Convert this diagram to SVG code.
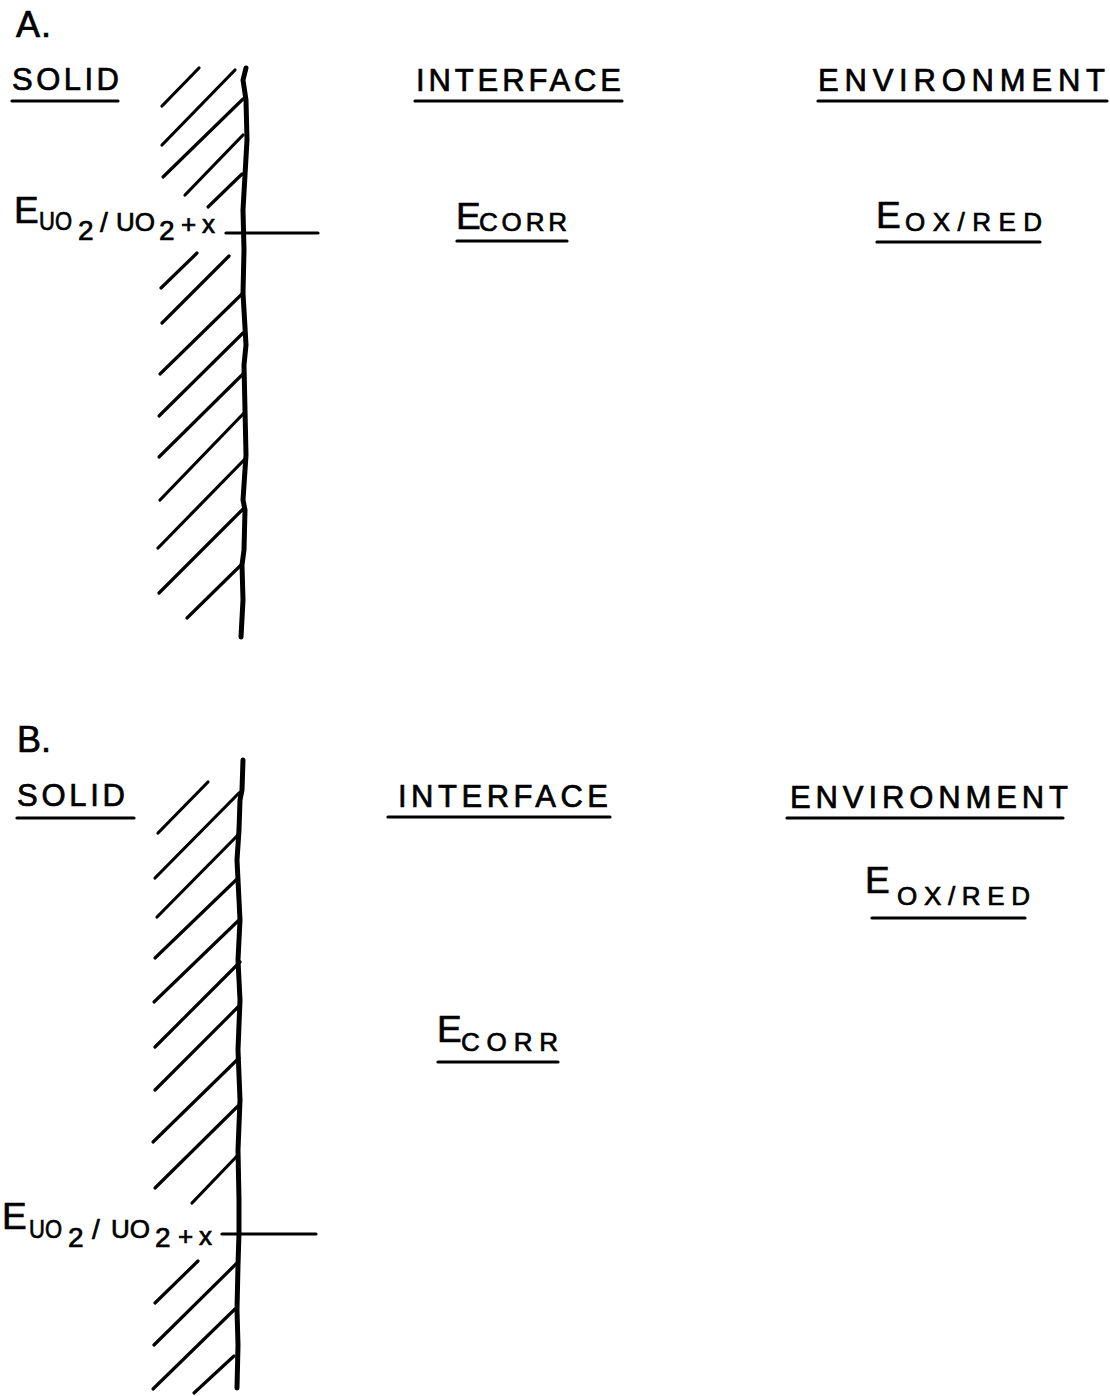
<svg xmlns="http://www.w3.org/2000/svg" width="1110" height="1396" viewBox="0 0 1110 1396">
<style>
text { font-family: "Liberation Sans", "DejaVu Sans", sans-serif; fill: #000; stroke: #000; stroke-width: 0.7; }
.lbl { font-size: 36px; }
.hd { font-size: 31px; }
.big { font-size: 37px; }
.sub { font-size: 26px; }
.dig { font-size: 28px; }
.ul { stroke: #000; stroke-width: 3.2; stroke-linecap: round; fill: none; }
.hatch { stroke: #000; stroke-width: 3.2; stroke-linecap: round; fill: none; }
.wall { stroke: #000; stroke-width: 5; stroke-linecap: round; stroke-linejoin: round; fill: none; }
.lvl { stroke: #000; stroke-width: 3.2; stroke-linecap: round; fill: none; }
</style>
<rect width="1110" height="1396" fill="#fff"/>

<!-- Panel A -->
<g id="panelA-label"><text class="lbl" x="16" y="37" textLength="35" lengthAdjust="spacing">A.</text></g>
<g id="A-solid">
  <text class="hd" x="12" y="90" textLength="107" lengthAdjust="spacing">SOLID</text>
  <line class="ul" x1="12" y1="101" x2="118" y2="101"/>
</g>
<g id="A-interface">
  <text class="hd" x="416" y="91" textLength="205" lengthAdjust="spacing">INTERFACE</text>
  <line class="ul" x1="415" y1="101" x2="622" y2="101"/>
</g>
<g id="A-environment">
  <text class="hd" x="818" y="91" textLength="287" lengthAdjust="spacing">ENVIRONMENT</text>
  <line class="ul" x1="818" y1="101" x2="1107" y2="101"/>
</g>
<g id="A-wall">
  <g class="hatch">
    <line x1="162" y1="106" x2="199" y2="68"/>
    <line x1="162" y1="145" x2="235" y2="70"/>
    <line x1="163" y1="177" x2="243" y2="99"/>
    <line x1="185" y1="195" x2="243" y2="135"/>
    <line x1="208" y1="207" x2="242" y2="174"/>
    <line x1="161" y1="288" x2="197" y2="253"/>
    <line x1="162" y1="323" x2="229" y2="256"/>
    <line x1="160" y1="374" x2="243" y2="293"/>
    <line x1="159" y1="416" x2="243" y2="333"/>
    <line x1="159" y1="457" x2="244" y2="373"/>
    <line x1="160" y1="500" x2="244" y2="413"/>
    <line x1="158" y1="548" x2="244" y2="460"/>
    <line x1="159" y1="593" x2="243" y2="509"/>
    <line x1="187" y1="618" x2="241" y2="565"/>
  </g>
  <path class="wall" d="M246,68 L243,80 L246,100 L247,140 L245,175 L243,210 L244,250 L243,293 L246,345 L244,365 L245,410 L246,455 L243,500 L245,510 L244,550 L242,565 L243,600 L241,637"/>
</g>
<g id="A-Euo2">
  <text><tspan class="big" x="14" y="223">E</tspan><tspan class="sub" x="39" y="230" textLength="33" lengthAdjust="spacingAndGlyphs">UO</tspan><tspan class="dig" x="78" y="240">2</tspan><tspan class="dig" x="100" y="232">/</tspan><tspan class="sub" x="116" y="231" textLength="39" lengthAdjust="spacingAndGlyphs">UO</tspan><tspan class="dig" x="159" y="240">2</tspan><tspan class="sub" x="181" y="233">+</tspan><tspan class="sub" x="202" y="233">x</tspan></text>
</g>
<g id="A-Ecorr">
  <text><tspan class="big" x="456" y="229">E</tspan><tspan class="sub" x="479" y="231" textLength="88" lengthAdjust="spacing">CORR</tspan></text>
  <line class="ul" x1="457" y1="241" x2="567" y2="241"/>
</g>
<g id="A-Eoxred">
  <text><tspan class="big" x="876" y="228">E</tspan><tspan class="sub" x="905" y="231" textLength="137" lengthAdjust="spacing">OX/RED</tspan></text>
  <line class="ul" x1="877" y1="242" x2="1040" y2="242"/>
</g>

<!-- Panel B -->
<g id="panelB-label"><text class="lbl" x="17" y="752" textLength="34" lengthAdjust="spacing">B.</text></g>
<g id="B-solid">
  <text class="hd" x="17" y="806" textLength="108" lengthAdjust="spacing">SOLID</text>
  <line class="ul" x1="17" y1="818" x2="134" y2="818"/>
</g>
<g id="B-interface">
  <text class="hd" x="398" y="807" textLength="210" lengthAdjust="spacing">INTERFACE</text>
  <line class="ul" x1="388" y1="817" x2="610" y2="817"/>
</g>
<g id="B-environment">
  <text class="hd" x="790" y="808" textLength="278" lengthAdjust="spacing">ENVIRONMENT</text>
  <line class="ul" x1="787" y1="818" x2="1063" y2="818"/>
</g>
<g id="B-wall">
  <g class="hatch">
    <line x1="158" y1="833" x2="208" y2="782"/>
    <line x1="155" y1="878" x2="239" y2="793"/>
    <line x1="157" y1="917" x2="237" y2="836"/>
    <line x1="155" y1="958" x2="236" y2="880"/>
    <line x1="154" y1="1002" x2="239" y2="920"/>
    <line x1="155" y1="1047" x2="240" y2="962"/>
    <line x1="155" y1="1090" x2="238" y2="1007"/>
    <line x1="153" y1="1142" x2="239" y2="1058"/>
    <line x1="155" y1="1188" x2="239" y2="1105"/>
    <line x1="192" y1="1203" x2="238" y2="1155"/>
    <line x1="155" y1="1303" x2="198" y2="1261"/>
    <line x1="154" y1="1345" x2="236" y2="1264"/>
    <line x1="153" y1="1389" x2="235" y2="1309"/>
    <line x1="194" y1="1393" x2="234" y2="1356"/>
  </g>
  <path class="wall" d="M243,760 L242,790 L240,800 L239,830 L237,860 L238,880 L240,920 L238,960 L240,1000 L238,1050 L240,1100 L238,1150 L239,1200 L239,1233 L238,1265 L237,1310 L238,1345 L237,1388"/>
</g>
<g id="B-Euo2">
  <text><tspan class="big" x="2" y="1229">E</tspan><tspan class="sub" x="29" y="1238" textLength="33" lengthAdjust="spacingAndGlyphs">UO</tspan><tspan class="dig" x="68" y="1247">2</tspan><tspan class="dig" x="92" y="1239">/</tspan><tspan class="sub" x="111" y="1238" textLength="39" lengthAdjust="spacingAndGlyphs">UO</tspan><tspan class="dig" x="155" y="1247">2</tspan><tspan class="sub" x="178" y="1245">+</tspan><tspan class="sub" x="199" y="1245">x</tspan></text>
</g>
<g id="B-Ecorr">
  <text><tspan class="big" x="437" y="1042">E</tspan><tspan class="sub" x="461" y="1051" textLength="97" lengthAdjust="spacing">CORR</tspan></text>
  <line class="ul" x1="438" y1="1062" x2="558" y2="1062"/>
</g>
<g id="B-Eoxred">
  <text><tspan class="big" x="865" y="893">E</tspan><tspan class="sub" x="897" y="905" textLength="133" lengthAdjust="spacing">OX/RED</tspan></text>
  <line class="ul" x1="872" y1="918" x2="1025" y2="918"/>
</g>

<g id="connectors">
  <line class="lvl" x1="226" y1="233" x2="318" y2="233"/>
  <line class="lvl" x1="222" y1="1234" x2="316" y2="1234"/>
</g>
</svg>
